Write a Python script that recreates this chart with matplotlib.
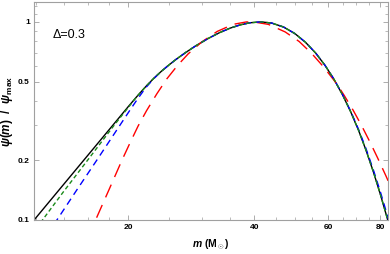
import matplotlib
matplotlib.use('Agg')
import matplotlib.pyplot as plt
from matplotlib.ticker import FixedLocator, NullFormatter, FixedFormatter

plt.rcParams['font.family'] = ['Liberation Sans', 'DejaVu Sans']
plt.rcParams['mathtext.fontset'] = 'custom'
plt.rcParams['mathtext.it'] = 'Liberation Sans:italic:bold'
plt.rcParams['mathtext.rm'] = 'Liberation Sans:bold'
plt.rcParams['mathtext.bf'] = 'Liberation Sans:bold'
plt.rcParams['mathtext.fallback'] = 'cm'
plt.rcParams['lines.scale_dashes'] = False

# mass values (solar masses) and normalised psi
m_black = [11.5, 12.0, 14.0, 16.0, 18.0, 20.0, 21.0, 22.0, 23.0, 24.0, 25.0, 26.0, 27.5, 29.0,
           31.0, 33.0, 35.0, 37.0, 39.0, 41.5, 44.0, 47.0, 50.0, 53.0, 56.0, 59.0, 62.0, 65.0,
           68.0, 71.0, 74.0, 77.0, 80.0, 83.0, 85.0]
psi_black = [0.091, 0.102, 0.151, 0.212, 0.286, 0.374, 0.422, 0.471, 0.519, 0.564, 0.606, 0.647,
             0.704, 0.758, 0.824, 0.882, 0.930, 0.966, 0.990, 1.000, 0.987, 0.942, 0.873, 0.789,
             0.698, 0.604, 0.513, 0.428, 0.351, 0.283, 0.224, 0.175, 0.135, 0.103, 0.085]

m_green = [11.8, 12.47, 14.0, 16.2, 18.5, 21.0, 22.0, 23.0, 24.0, 25.0, 26.0, 27.5, 29.0,
           31.0, 33.0, 35.0, 37.0, 39.0, 41.5, 44.0, 47.0, 50.0, 53.0, 56.0, 59.0, 62.0, 65.0,
           68.0, 71.0, 74.0, 77.0, 80.0, 83.0, 85.0]
psi_green = [0.085, 0.100, 0.139, 0.208, 0.301, 0.422, 0.471, 0.519, 0.564, 0.606, 0.647,
             0.704, 0.758, 0.824, 0.882, 0.930, 0.966, 0.990, 1.000, 0.987, 0.942, 0.873, 0.789,
             0.698, 0.604, 0.513, 0.428, 0.351, 0.283, 0.224, 0.175, 0.135, 0.103, 0.085]

m_blue = [12.8, 13.5, 15.0, 16.8, 18.5, 20.2, 21.0, 22.0, 23.0, 24.0, 25.0, 26.0, 27.5, 29.0,
          31.0, 33.0, 35.0, 37.0, 39.0, 41.5, 44.0, 47.0, 50.0, 53.0, 56.0, 59.0, 62.0, 65.0,
          68.0, 71.0, 74.0, 77.0, 80.0, 83.0, 85.0]
psi_blue = [0.085, 0.100, 0.140, 0.200, 0.272, 0.360, 0.406, 0.465, 0.517, 0.564, 0.606, 0.647,
            0.704, 0.758, 0.824, 0.882, 0.930, 0.966, 0.990, 1.000, 0.987, 0.942, 0.873, 0.789,
            0.698, 0.604, 0.514, 0.430, 0.353, 0.286, 0.228, 0.179, 0.139, 0.107, 0.090]

m_red = [16.0, 16.7, 18.0, 19.3, 20.2, 21.1, 22.1, 23.4, 24.7, 26.2, 27.8, 29.9, 32.6, 35.6,
         38.3, 40.5, 43.2, 47.4, 51.2, 54.8, 58.5, 62.9, 65.6, 68.9, 72.2, 75.6, 78.8, 82.4, 86.0]
psi_red = [0.081, 0.100, 0.143, 0.200, 0.246, 0.298, 0.356, 0.434, 0.515, 0.602, 0.690, 0.790,
           0.895, 0.972, 1.000, 0.994, 0.972, 0.890, 0.796, 0.694, 0.594, 0.488, 0.425, 0.358,
           0.299, 0.247, 0.206, 0.168, 0.137]

x_ticks = [20, 40, 60, 80]
y_ticks = [0.1, 0.2, 0.5, 1]
y_ticklabels = ['0.1', '0.2', '0.5', '1']
delta_text = '\u0394=0.3'

fig = plt.figure(figsize=(3.9, 2.54), dpi=100)
ax = fig.add_axes([0.0872, 0.134, 0.9068, 0.858])

ax.plot(m_black, psi_black, color='black', lw=1.0, zorder=2)
ax.plot(m_red, psi_red, color='#ff0000', lw=1.0, dashes=(10, 6), zorder=3)
ax.plot(m_blue, psi_blue, color='#0000ff', lw=1.0, dashes=(5, 3.5), zorder=4)
ax.plot(m_green, psi_green, color='#1a8a1a', lw=1.0, dashes=(3, 2), zorder=5)

ax.set_xscale('log')
ax.set_yscale('log')
ax.set_xlim(11.9, 83.3)
ax.set_ylim(0.1, 1.26)

ax.xaxis.set_major_locator(FixedLocator(x_ticks))
ax.xaxis.set_major_formatter(FixedFormatter([str(v) for v in x_ticks]))
ax.xaxis.set_minor_locator(FixedLocator([12, 14, 16, 18, 25, 30, 35, 45, 50, 55, 65, 70, 75]))
ax.xaxis.set_minor_formatter(NullFormatter())
ax.yaxis.set_major_locator(FixedLocator(y_ticks))
ax.yaxis.set_major_formatter(FixedFormatter(y_ticklabels))
ax.yaxis.set_minor_locator(FixedLocator([0.3, 0.4, 0.6, 0.7, 0.8, 0.9, 1.1, 1.2]))
ax.yaxis.set_minor_formatter(NullFormatter())

for s in ax.spines.values():
    s.set_color('#a0a0a0')
    s.set_linewidth(0.8)
ax.tick_params(which='both', direction='in', top=True, right=True, color='#a0a0a0',
               labelsize=6, pad=3)
ax.tick_params(which='major', length=3.5, width=0.6)
ax.tick_params(which='minor', length=2, width=0.5)
for lab in ax.get_xticklabels() + ax.get_yticklabels():
    lab.set_fontweight('bold')

ax.set_xlabel(r'$m$ (M$_\odot$)', fontsize=7.5, fontweight='bold', labelpad=5)
ax.set_ylabel(r'$\psi(m)$  /  $\psi_\mathrm{max}$', fontsize=8.5, fontweight='bold', labelpad=2)

ax.text(0.054, 0.85, delta_text, transform=ax.transAxes, fontsize=9, va='center', ha='left')

fig.savefig('out.png', dpi=100)
